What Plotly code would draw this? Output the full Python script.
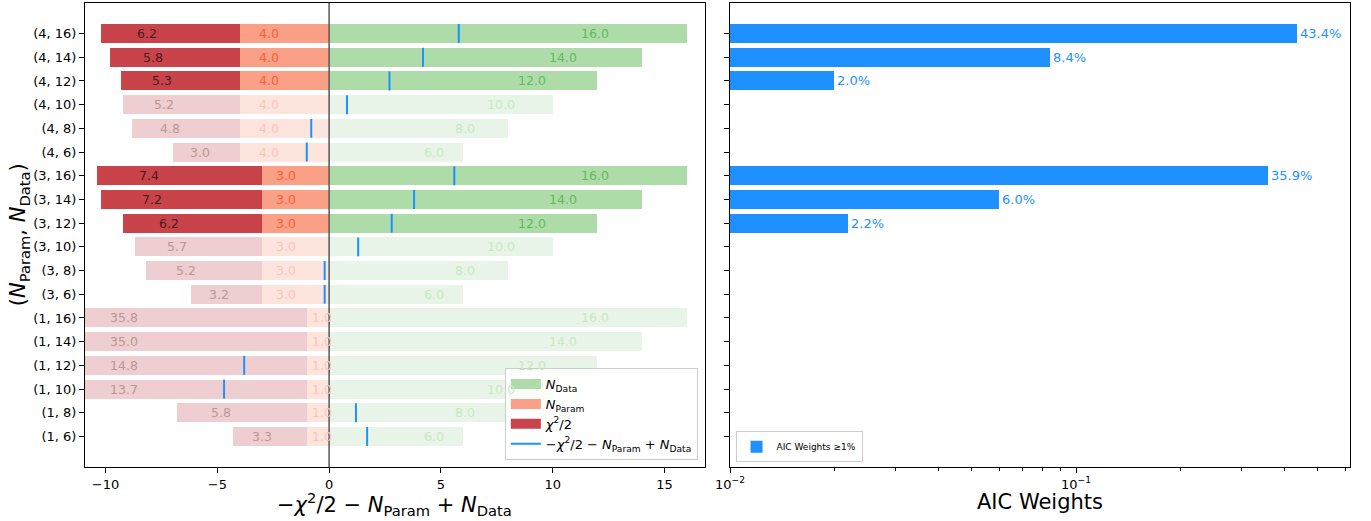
import numpy as np
import plotly.graph_objects as go

# Models ordered top to bottom: (N_Param, N_Data)
n_param = [4, 4, 4, 4, 4, 4, 3, 3, 3, 3, 3, 3, 1, 1, 1, 1, 1, 1]
n_data = [16, 14, 12, 10, 8, 6, 16, 14, 12, 10, 8, 6, 16, 14, 12, 10, 8, 6]
chi2_half = [6.2, 5.8, 5.3, 5.2, 4.8, 3.0,
             7.4, 7.2, 6.2, 5.7, 5.2, 3.2,
             35.8, 35.0, 14.8, 13.7, 5.8, 3.3]
# AIC weights shown (None = below 1 %)
aic_weight = [0.434, 0.084, 0.020, None, None, None,
              0.359, 0.060, 0.022, None, None, None,
              None, None, None, None, None, None]
tick_labels = [f"({p}, {d})" for p, d in zip(n_param, n_data)]

n = len(n_param)
ypos = [n - 1 - i for i in range(n)]
strong = [w is not None and w >= 0.01 for w in aic_weight]
score = [-c - p + d for c, p, d in zip(chi2_half, n_param, n_data)]

X_MIN, X_MAX = -10.92, 16.8
FONT = "DejaVu Sans"
BLUE = "#1e90ff"
GREEN, SALMON, RED = "rgb(173,220,168)", "rgb(250,160,135)", "rgb(201,68,74)"


def pick(flag, a, b):
    return a if flag else b


green = [pick(s, GREEN, "rgb(233,244,232)") for s in strong]
salmon = [pick(s, SALMON, "rgb(253,229,222)") for s in strong]
red = [pick(s, RED, "rgb(238,206,208)") for s in strong]

fig = go.Figure()

fig.add_trace(go.Bar(
    y=ypos, x=n_data, base=[0] * n, orientation="h", width=0.8,
    marker=dict(color=green, line=dict(width=0)), showlegend=False,
    xaxis="x", yaxis="y", hoverinfo="skip"))
fig.add_trace(go.Bar(
    y=ypos, x=n_param, base=[-p for p in n_param], orientation="h", width=0.8,
    marker=dict(color=salmon, line=dict(width=0)), showlegend=False,
    xaxis="x", yaxis="y", hoverinfo="skip"))
fig.add_trace(go.Bar(
    y=ypos, x=chi2_half, base=[-p - c for p, c in zip(n_param, chi2_half)],
    orientation="h", width=0.8,
    marker=dict(color=red, line=dict(width=0)), showlegend=False,
    xaxis="x", yaxis="y", hoverinfo="skip"))

# short vertical markers at the combined score
seg_x, seg_y = [], []
for s, y in zip(score, ypos):
    seg_x += [s, s, None]
    seg_y += [y - 0.4, y + 0.4, None]
fig.add_trace(go.Scatter(
    x=seg_x, y=seg_y, mode="lines", line=dict(color=BLUE, width=2),
    showlegend=False, xaxis="x", yaxis="y", cliponaxis=True, hoverinfo="skip"))

# legend keys (wide patches for the bar series, thin line for the score)
legend_keys = [
    ("<i>N</i><sub>Data</sub>", GREEN, 10),
    ("<i>N</i><sub>Param</sub>", SALMON, 10),
    ("<i>χ</i><sup>2</sup>/2", RED, 10),
    ("−<i>χ</i><sup>2</sup>/2 − <i>N</i><sub>Param</sub> + <i>N</i><sub>Data</sub>", BLUE, 2),
]
for name, col, lw in legend_keys:
    fig.add_trace(go.Scatter(
        x=[None], y=[None], mode="lines", line=dict(color=col, width=lw),
        name=name, xaxis="x", yaxis="y", legend="legend", hoverinfo="skip"))

# AIC weight panel
w_y = [y for y, w in zip(ypos, aic_weight) if w is not None]
w_x = [w for w in aic_weight if w is not None]
fig.add_trace(go.Bar(
    y=w_y, x=w_x, orientation="h", width=0.8,
    marker=dict(color=BLUE, line=dict(width=0)),
    text=[f"{w * 100:.1f}%" for w in w_x], textposition="outside",
    textfont=dict(color=BLUE, size=13, family=FONT), cliponaxis=False,
    name="AIC Weights ≥1%", xaxis="x2", yaxis="y2", legend="legend2",
    hoverinfo="skip"))

# value labels on the left panel
annotations = []
for i in range(n):
    s = strong[i]
    lbl_chi = max(-n_param[i] - 0.75 * chi2_half[i], 0.9 * X_MIN)
    entries = [
        (lbl_chi, f"{chi2_half[i]:.1f}", pick(s, "rgb(75,25,28)", "rgb(188,150,150)")),
        (-0.8 * n_param[i], f"{n_param[i]:.1f}", pick(s, "rgb(245,95,60)", "rgb(252,196,182)")),
        (0.7 * n_data[i], f"{n_data[i]:.1f}", pick(s, "rgb(100,185,95)", "rgb(200,232,196)")),
    ]
    for x, t, c in entries:
        annotations.append(dict(
            x=x, y=ypos[i], xref="x", yref="y", text=t, showarrow=False,
            xanchor="left", yanchor="middle", borderpad=0,
            font=dict(color=c, size=12.5, family=FONT)))

# axis titles
annotations += [
    dict(x=0.288, y=0.033, xref="paper", yref="paper", showarrow=False,
         xanchor="center", yanchor="middle",
         text="−<i>χ</i><sup>2</sup>/2 − <i>N</i><sub>Param</sub> + <i>N</i><sub>Data</sub>",
         font=dict(size=21, family=FONT, color="black")),
    dict(x=0.7586, y=0.036, xref="paper", yref="paper", showarrow=False,
         xanchor="center", yanchor="middle", text="AIC Weights",
         font=dict(size=21, family=FONT, color="black")),
    dict(x=0.014, y=0.549, xref="paper", yref="paper", showarrow=False,
         xanchor="center", yanchor="middle", textangle=-90,
         text="(<i>N</i><sub>Param</sub>, <i>N</i><sub>Data</sub>)",
         font=dict(size=21, family=FONT, color="black")),
]

axis_common = dict(showline=True, linecolor="black", linewidth=1, mirror=True,
                   ticks="outside", ticklen=5, tickwidth=1, tickcolor="black",
                   showgrid=False, zeroline=False, automargin=False,
                   tickfont=dict(size=13, family=FONT, color="black"))

minor_vals = [k * 10 ** e for e in (-2, -1) for k in range(2, 10)]
minor_vals = [v for v in minor_vals if v < 0.62]

fig.update_layout(
    width=1371, height=521, margin=dict(l=0, r=0, t=0, b=0, autoexpand=False),
    paper_bgcolor="white", plot_bgcolor="white",
    barmode="overlay", bargap=0,
    font=dict(family=FONT, color="black"),
    showlegend=True,
    xaxis=dict(domain=[0.062, 0.514], range=[X_MIN, X_MAX],
               tickvals=[-10, -5, 0, 5, 10, 15], anchor="y", **axis_common),
    yaxis=dict(domain=[0.1036, 0.9942], range=[-1.29, 18.29],
               tickvals=ypos, ticktext=tick_labels, anchor="x", **axis_common),
    xaxis2=dict(domain=[0.5325, 0.9847], type="log", range=[-2, -0.208],
                tickvals=[0.01, 0.1], ticktext=["10<sup>−2</sup>", "10<sup>−1</sup>"],
                minor=dict(tickvals=minor_vals, ticks="outside", ticklen=3,
                           tickcolor="black", showgrid=False),
                anchor="y2", **axis_common),
    yaxis2=dict(domain=[0.1036, 0.9942], range=[-1.29, 18.29], tickvals=ypos,
                showticklabels=False, anchor="x2", **axis_common),
    legend=dict(x=0.509, y=0.117, xanchor="right", yanchor="bottom",
                bgcolor="rgba(255,255,255,0.8)", bordercolor="#cccccc", borderwidth=1,
                font=dict(size=13, family=FONT, color="black"), traceorder="normal",
                tracegroupgap=2),
    legend2=dict(x=0.5365, y=0.113, xanchor="left", yanchor="bottom",
                 bgcolor="rgba(255,255,255,0.8)", bordercolor="#cccccc", borderwidth=1,
                 font=dict(size=9, family=FONT, color="black")),
    annotations=annotations,
    shapes=[dict(type="line", xref="x", yref="y domain", x0=0, x1=0, y0=0, y1=1,
                 line=dict(color="#555555", width=1.5))],
)

fig.write_html("out.html")
